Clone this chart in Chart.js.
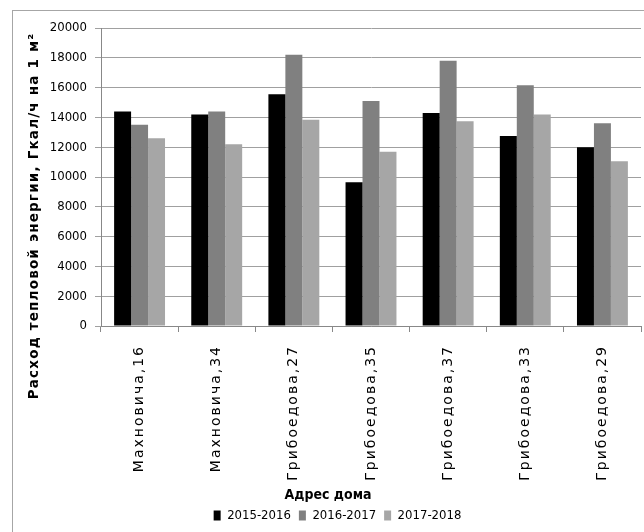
<!DOCTYPE html>
<html>
<head>
<meta charset="utf-8">
<script src="https://cdn.jsdelivr.net/npm/chart.js@4"></script>
<style>
  body { margin: 0; background: #fff; }
  #wrap { position: relative; width: 644px; height: 532px; overflow: hidden; }
  #frame { position: absolute; left: 12px; top: 10px; width: 700px; height: 600px; border: 1px solid #a6a6a6; }
  canvas { position: absolute; left: 0; top: 0; }
</style>
</head>
<body>
<div id="wrap">
  <div id="frame"></div>
  <canvas id="chart" width="644" height="532"></canvas>
</div>
<script>
const houses = ['Махновича,16', 'Махновича,34', 'Грибоедова,27', 'Грибоедова,35', 'Грибоедова,37', 'Грибоедова,33', 'Грибоедова,29'];
const seasons = ['2015-2016', '2016-2017', '2017-2018'];
const heat1516 = [14400, 14200, 15550, 9650, 14300, 12750, 12000];
const heat1617 = [13500, 14400, 18200, 15100, 17800, 16150, 13600];
const heat1718 = [12600, 12200, 13850, 11700, 13750, 14200, 11050];
const yTitle = 'Расход тепловой энергии, Гкал/ч на 1 м²';
const xTitle = 'Адрес дома';

const narrow = "'DejaVu Sans Condensed', 'DejaVu Sans', sans-serif";

// axis titles sit where Excel put them, not centred on the plot
const axisTitles = {
  id: 'axisTitles',
  beforeDraw(chart) {
    const s = chart.scales.x;
    if (!s._spaced) {
      const orig = s.drawLabels.bind(s);
      s.drawLabels = function (area) {
        chart.ctx.save();
        chart.ctx.letterSpacing = '2px';
        orig(area);
        chart.ctx.restore();
      };
      s._spaced = true;
    }
  },
  afterDraw(chart) {
    const ctx = chart.ctx;
    ctx.save();
    ctx.fillStyle = '#000';
    ctx.textAlign = 'center';
    ctx.textBaseline = 'middle';
    ctx.letterSpacing = '1.2px';
    ctx.font = "bold 13.5px 'DejaVu Sans', sans-serif";
    ctx.translate(34, 216);
    ctx.rotate(-Math.PI / 2);
    ctx.fillText(yTitle, 0, 0);
    ctx.restore();

    ctx.save();
    ctx.fillStyle = '#000';
    ctx.textAlign = 'center';
    ctx.textBaseline = 'middle';
    ctx.font = 'bold 14px ' + narrow;
    ctx.fillText(xTitle, 328, 495);
    ctx.restore();
  }
};

new Chart(document.getElementById('chart'), {
  type: 'bar',
  data: {
    labels: houses,
    datasets: [
      { label: seasons[0], data: heat1516, backgroundColor: '#000000' },
      { label: seasons[1], data: heat1617, backgroundColor: '#808080' },
      { label: seasons[2], data: heat1718, backgroundColor: '#a6a6a6' }
    ]
  },
  options: {
    responsive: false,
    animation: false,
    devicePixelRatio: 1,
    categoryPercentage: 0.66,
    barPercentage: 1,
    layout: { padding: { left: 34, right: 3, top: 28, bottom: 0 } },
    scales: {
      y: {
        min: 0,
        max: 20000,
        afterFit: (scale) => { scale.width = 67; },
        ticks: {
          stepSize: 2000,
          color: '#000',
          padding: 8,
          font: { family: narrow, size: 13 },
          callback: (v) => String(v)
        },
        grid: { color: '#a0a0a0', tickLength: 6 },
        border: { color: '#888' }
      },
      x: {
        afterFit: (scale) => { scale.height = 175; },
        ticks: {
          minRotation: 90,
          maxRotation: 90,
          color: '#000',
          padding: 13,
          font: { family: "'DejaVu Sans', sans-serif", size: 14 }
        },
        grid: { drawOnChartArea: false, color: '#888', tickLength: 6 },
        border: { color: '#888' }
      }
    },
    plugins: {
      legend: {
        position: 'bottom',
        labels: {
          boxWidth: 7,
          boxHeight: 10,
          padding: 8,
          color: '#000',
          font: { family: narrow, size: 13 }
        }
      },
      tooltip: { enabled: false }
    }
  },
  plugins: [axisTitles]
});
</script>
</body>
</html>
